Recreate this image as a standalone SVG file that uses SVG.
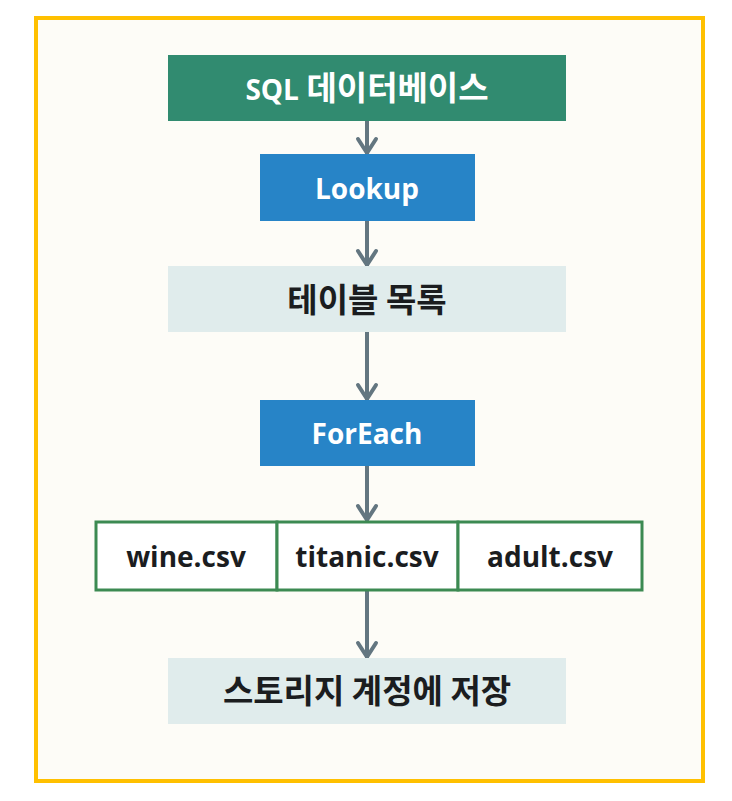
<svg xmlns="http://www.w3.org/2000/svg" width="732" height="801" viewBox="0 0 732 801">
<defs>
<style>
.lat{font-family:"Open Sans","Noto Sans CJK KR",sans-serif;font-weight:bold;font-size:28px;text-anchor:middle}
.kr{font-family:"Noto Sans CJK KR","Noto Sans",sans-serif;font-weight:bold;font-size:33px;text-anchor:middle}
.w{fill:#ffffff}
.d{fill:#1b1d1f}
.conn{stroke:#637680;stroke-width:4;fill:none;marker-end:url(#ah)}
.light{fill:#e0ecec}
.blue{fill:#2784c7}
.cell{fill:#ffffff;stroke:#3c8a52;stroke-width:3}
</style>
<marker id="ah" markerUnits="userSpaceOnUse" viewBox="-20 -12 24 24" refX="0" refY="0" markerWidth="24" markerHeight="24" orient="auto">
<path d="M-15,-9 L-1,0 L-15,9" fill="none" stroke="#637680" stroke-width="4" stroke-linecap="round" stroke-linejoin="round"/>
</marker>
</defs>
<rect x="0" y="0" width="732" height="801" fill="#ffffff"/>
<rect x="36" y="18" width="667" height="763" fill="#fdfcf7" stroke="#ffc000" stroke-width="4"/>
<g id="connectors">
<line class="conn" x1="367" y1="121" x2="367" y2="154"/>
<line class="conn" x1="367" y1="221" x2="367" y2="266"/>
<line class="conn" x1="367" y1="332" x2="367" y2="400"/>
<line class="conn" x1="367" y1="466" x2="367" y2="521"/>
<line class="conn" x1="367" y1="591" x2="367" y2="658"/>
</g>
<g id="sql">
<rect x="168" y="55" width="398" height="66" fill="#318b70"/>
<text class="kr w" x="367" y="100"><tspan font-family="Open Sans" font-size="28">SQL</tspan> 데이터베이스</text>
</g>
<g id="lookup">
<rect class="blue" x="260" y="154" width="215" height="67"/>
<text class="lat w" x="367" y="199">Lookup</text>
</g>
<g id="tables">
<rect class="light" x="168" y="266" width="398" height="66"/>
<text class="kr d" x="367" y="312">테이블 목록</text>
</g>
<g id="foreach">
<rect class="blue" x="260" y="400" width="215" height="66"/>
<text class="lat w" x="367" y="444">ForEach</text>
</g>
<g id="csv">
<rect class="cell" x="96" y="522" width="181" height="68"/>
<rect class="cell" x="277" y="522" width="181" height="68"/>
<rect class="cell" x="458" y="522" width="184" height="68"/>
<text class="lat d" x="186" y="567">wine.csv</text>
<text class="lat d" x="367" y="567">titanic.csv</text>
<text class="lat d" x="550" y="567">adult.csv</text>
</g>
<g id="storage">
<rect class="light" x="168" y="658" width="398" height="66"/>
<text class="kr d" x="367" y="703">스토리지 계정에 저장</text>
</g>
</svg>
